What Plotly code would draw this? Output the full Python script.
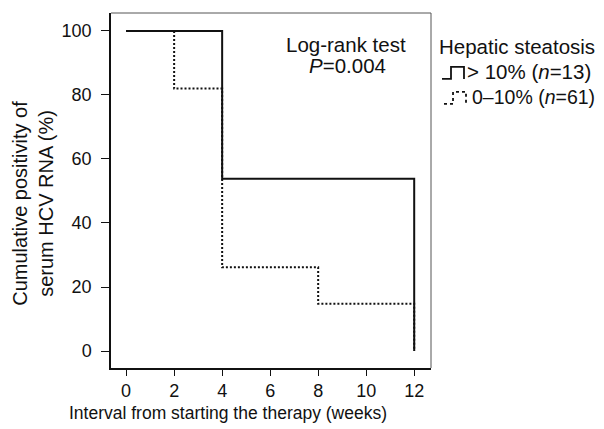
import plotly.graph_objects as go

# Data (Kaplan-Meier step curves)
weeks_high = [0, 4, 4, 12, 12]
pos_high = [100, 100, 53.8, 53.8, 0]
weeks_low = [0, 2, 2, 4, 4, 8, 8, 12, 12]
pos_low = [100, 100, 82.0, 82.0, 26.2, 26.2, 14.8, 14.8, 0]
x_ticks = [0, 2, 4, 6, 8, 10, 12]
y_ticks = [0, 20, 40, 60, 80, 100]

# page body has an 8px margin; figure is sized to fit inside the window
OFF = 8
W, H = 604 - OFF, 429 - OFF
# plot area in screen pixels
L, R, T, B = 111, 431, 13, 368.5

def px(x):
    return (x - L) / (R - L)

def py(y):
    return (B - y) / (B - T)

FONT = "Liberation Sans, Arial, sans-serif"

fig = go.Figure()
fig.add_trace(go.Scatter(x=weeks_low, y=pos_low, mode="lines",
                         line=dict(color="#111", width=2, dash="2px,2px"),
                         showlegend=False, hoverinfo="skip"))
fig.add_trace(go.Scatter(x=weeks_high, y=pos_high, mode="lines",
                         line=dict(color="#111", width=2),
                         showlegend=False, hoverinfo="skip"))

shapes = [
    dict(type="line", xref="paper", yref="paper", x0=0, x1=1, y0=1, y1=1,
         line=dict(color="#555", width=1)),
    dict(type="line", xref="paper", yref="paper", x0=1, x1=1, y0=0, y1=1,
         line=dict(color="#555", width=1)),
]

def glyph(x0, yc, dash):
    pts = [(x0, yc + 6), (x0 + 9, yc + 6), (x0 + 9, yc - 6),
           (x0 + 22, yc - 6), (x0 + 22, yc + 6)]
    path = "M " + " L ".join(f"{px(a):.4f},{py(b):.4f}" for a, b in pts)
    return dict(type="path", xref="paper", yref="paper", path=path,
                line=dict(color="#111", width=1.8, dash=dash))

shapes.append(glyph(442, 73, "solid"))
shapes.append(glyph(444, 98, "dot"))

def ann(text, x, y, size, anchor="center", angle=0):
    return dict(text=text, x=px(x), y=py(y), xref="paper", yref="paper",
                showarrow=False, xanchor=anchor, yanchor="middle",
                textangle=angle, font=dict(size=size))

annotations = [
    ann("Log-rank test", 346, 45, 20.5),
    ann("<i>P</i>=0.004", 347, 66, 20.5),
    ann("Hepatic steatosis", 437, 47, 20.5, "left"),
    ann("> 10% (<i>n</i>=13)", 465, 72, 20.5, "left"),
    ann("0–10% (<i>n</i>=61)", 470, 97, 19.5, "left"),
    ann("Cumulative positivity of<br>serum HCV RNA (%)", 33, 204, 20, angle=-90),
    ann("Interval from starting the therapy (weeks)", 227.5, 414, 17.5),
]

fig.update_layout(
    width=W, height=H,
    margin=dict(l=L - OFF, r=604 - R, t=T - OFF, b=429 - B),
    paper_bgcolor="white", plot_bgcolor="white",
    font=dict(family=FONT, size=18, color="#111"),
    shapes=shapes, annotations=annotations,
    xaxis=dict(range=[-0.63, 12.7], tickvals=x_ticks, ticks="outside", ticklen=6,
               tickcolor="#111", showline=True, linecolor="#111", linewidth=1.5,
               showgrid=False, zeroline=False, tickfont=dict(size=18)),
    yaxis=dict(range=[-5.3, 105.6], tickvals=y_ticks, ticks="outside", ticklen=8,
               tickcolor="#111", showline=True, linecolor="#111", linewidth=1.5,
               showgrid=False, zeroline=False, tickfont=dict(size=18),
               ticklabelstandoff=6),
)

fig.write_html("out.html")
